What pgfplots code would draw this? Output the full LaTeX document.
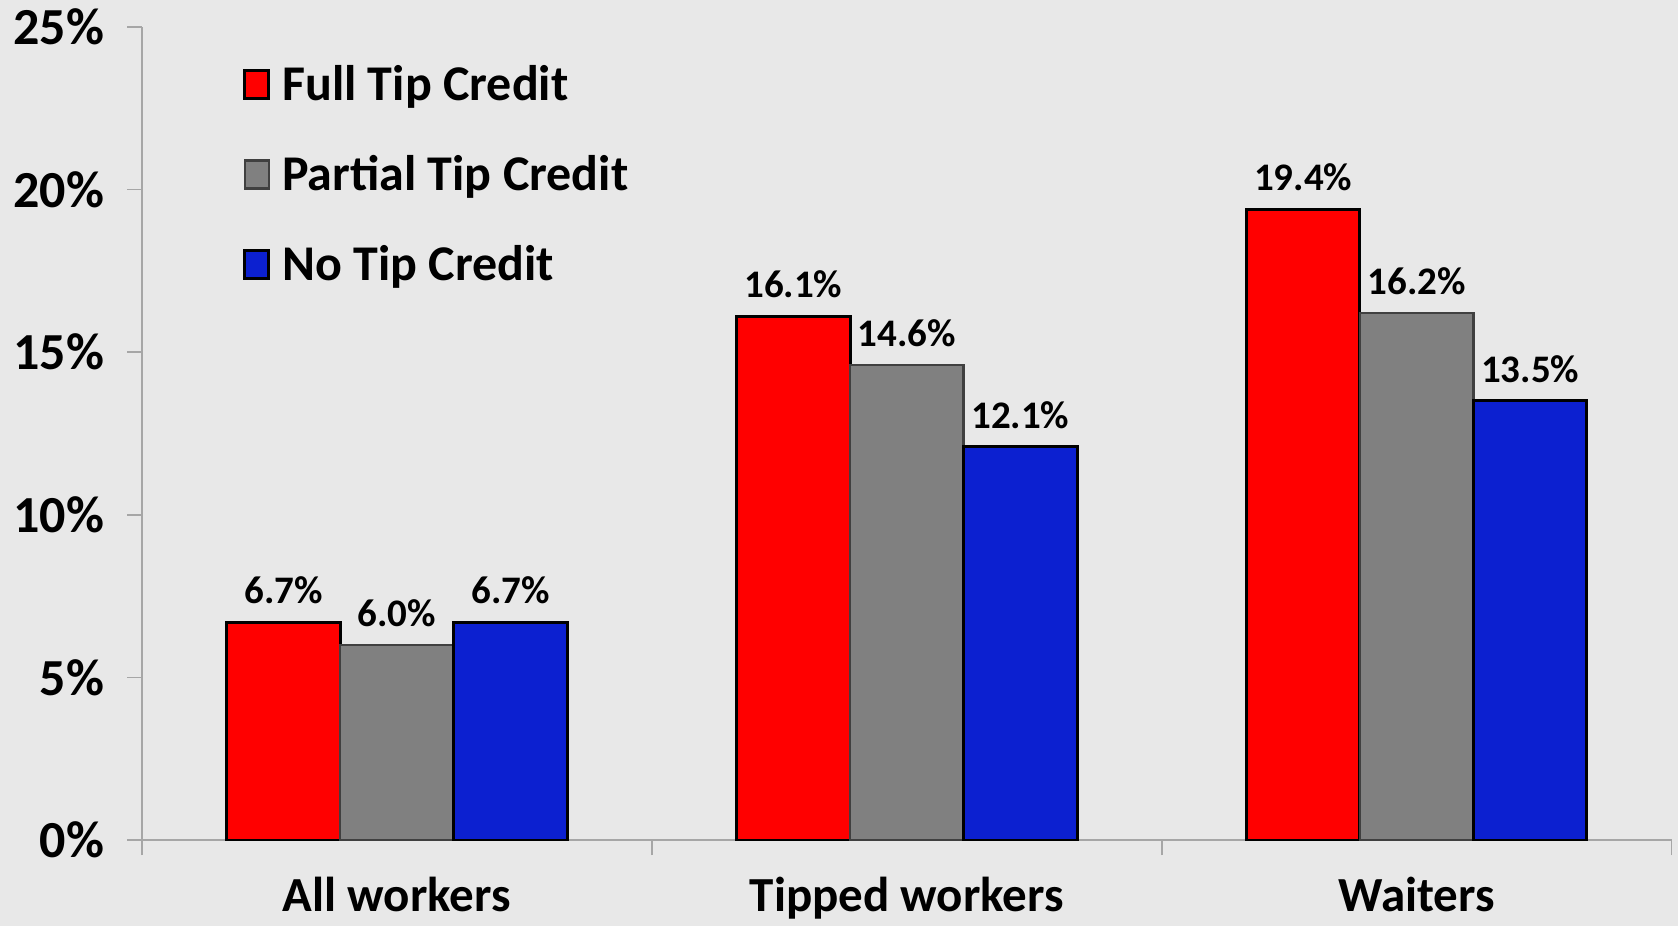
\documentclass[border=0pt]{standalone}
\usepackage{fontspec}
\setmainfont{Carlito}
\usepackage{pgfplots}
\pgfplotsset{compat=1.18}
\definecolor{bg}{HTML}{E8E8E8}
\definecolor{axgray}{HTML}{A6A6A6}
\definecolor{cred}{HTML}{FF0000}
\definecolor{cgray}{HTML}{808080}
\definecolor{cblue}{HTML}{0C20D0}
\begin{document}
\begin{tikzpicture}
\fill[bg] (-71pt,-43pt) rectangle (767.8pt,420pt);
\begin{axis}[
  name=ax,
  scale only axis,
  width=764.6pt, height=406.6pt,
  ybar=0pt, bar width=0.2226,
  xmin=-0.5, xmax=2.5, ymin=0, ymax=25,
  axis x line=bottom, axis y line=left,
  axis line style={axgray, line width=0.8pt, -},
  xtick={-0.5,0.5,1.5,2.5},
  xticklabels={},
  extra x ticks={0,1,2},
  extra x tick labels={All workers, Tipped workers, Waiters},
  extra x tick style={major tick length=0pt, tick style={draw=none}},
  x tick style={axgray, line width=0.8pt},
  ytick={0,5,10,15,20,25},
  yticklabel={\pgfmathprintnumber[assume math mode=true]{\tick}\%},
  y tick style={axgray, line width=0.8pt},
  major tick length=7.5pt, tick align=outside,
  xticklabel style={font=\bfseries\fontsize{24.5}{28}\selectfont, yshift=-15pt},
  yticklabel style={font=\bfseries\fontsize{26}{28}\selectfont, xshift=-8pt},
  /pgf/number format/assume math mode=true,
  nodes near coords={\pgfmathprintnumber[fixed,fixed zerofill,precision=1]{\pgfplotspointmeta}\%},
  nodes near coords style={font=\bfseries\fontsize{19.5}{22}\selectfont, anchor=south, yshift=5pt},
  legend style={at={(0.062,0.963)}, anchor=north west, draw=none, fill=none,
    font=\bfseries\fontsize{25}{28}\selectfont, row sep=22pt,
    /tikz/every even column/.append style={column sep=2pt},
    nodes={inner xsep=6pt}},
  legend cell align=left,
  legend image code/.code={\draw[#1] (0pt,-7pt) rectangle (12pt,7pt);},
]
\addplot[fill=cred, draw=black, line width=1.5pt] coordinates {(0,6.7) (1,16.1) (2,19.4)};
\addplot[fill=cgray, draw=black!75, line width=1.2pt] coordinates {(0,6.0) (1,14.6) (2,16.2)};
\addplot[fill=cblue, draw=black, line width=1.5pt] coordinates {(0,6.7) (1,12.1) (2,13.5)};
\legend{Full Tip Credit, Partial Tip Credit, No Tip Credit}
\end{axis}
\pgfresetboundingbox
\path (-71pt,-43pt) rectangle (767.8pt,420pt);
\end{tikzpicture}
\end{document}
